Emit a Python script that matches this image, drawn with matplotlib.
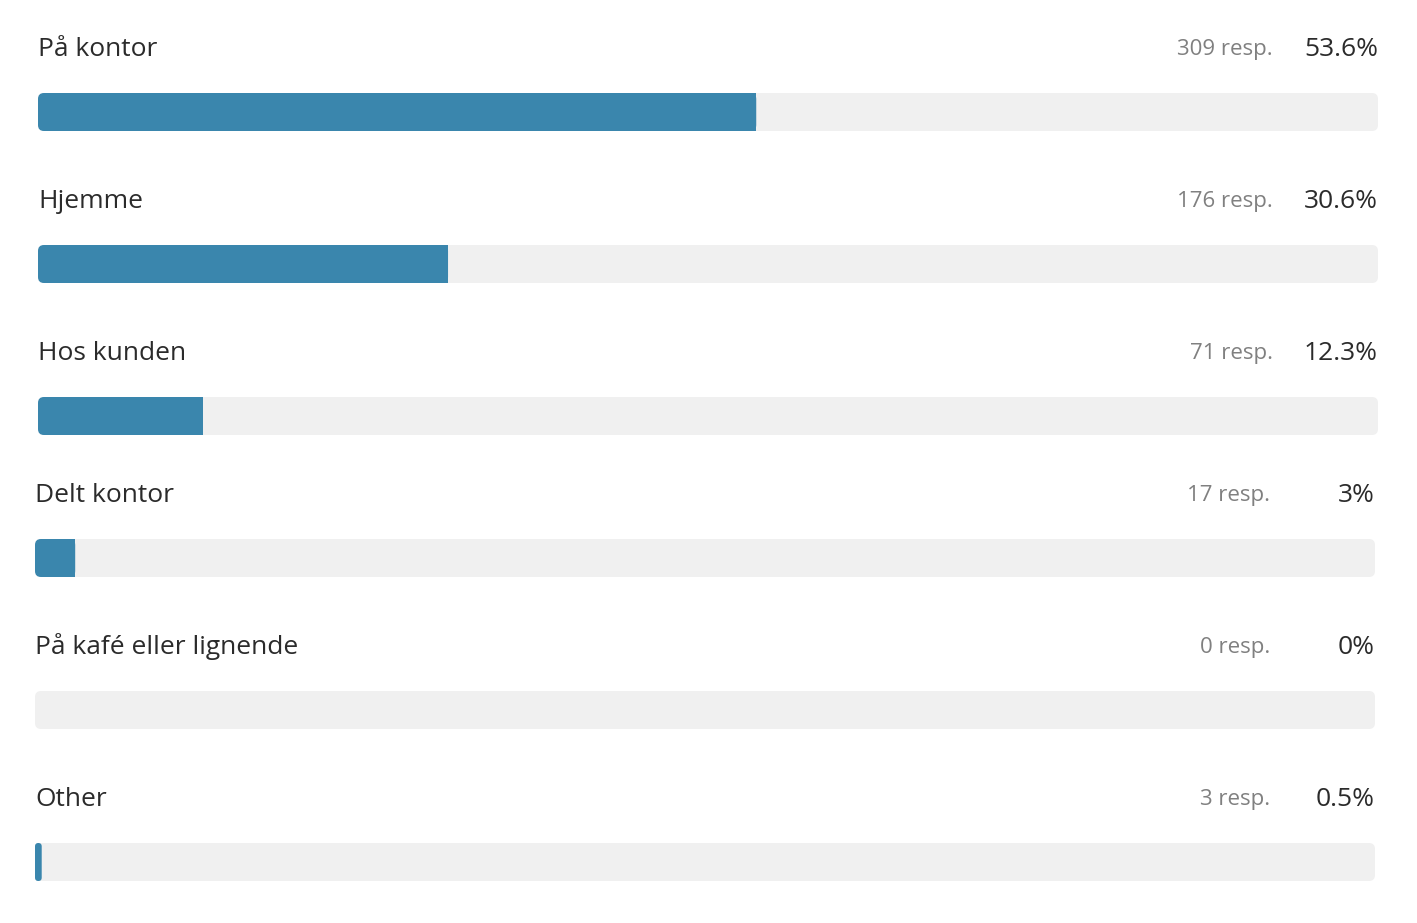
import matplotlib.pyplot as plt
from matplotlib.patches import FancyBboxPatch

labels = ['På kontor', 'Hjemme', 'Hos kunden', 'Delt kontor', 'På kafé eller lignende', 'Other']
counts = [309, 176, 71, 17, 0, 3]
pcts = [53.6, 30.6, 12.3, 3, 0, 0.5]
pct_text = ['53.6%', '30.6%', '12.3%', '3%', '0%', '0.5%']

# layout in pixels
label_y = [49, 201, 353, 495, 647, 799]
left_x = [38, 38, 38, 35, 35, 35]
track_w = 1340
bar_h = 38
gap = 44

BLUE = '#3a86ad'
TRACK = '#f0f0f0'

plt.rcParams['font.family'] = ['Open Sans', 'DejaVu Sans']
fig = plt.figure(figsize=(14.17, 9.23), dpi=100)
ax = fig.add_axes([0, 0, 1, 1])
ax.set_xlim(0, 1417)
ax.set_ylim(923, 0)
ax.axis('off')

for lab, c, p, pt, y, x0 in zip(labels, counts, pcts, pct_text, label_y, left_x):
    ax.text(x0, y, lab, fontsize=19, color='#2b2b2b', va='center', ha='left')
    ax.text(x0 + track_w - 105, y, f'{c} resp.', fontsize=16, color='#808080', va='center', ha='right')
    ax.text(x0 + track_w, y, pt, fontsize=19, color='#2b2b2b', va='center', ha='right')
    top = y + gap
    ax.add_patch(FancyBboxPatch((x0 + 6, top + 6), track_w - 12, bar_h - 12,
                                boxstyle='round,pad=6', fc=TRACK, ec='none'))
    w = track_w * p / 100
    if w > 0:
        r = min(6, w / 2)
        ax.add_patch(FancyBboxPatch((x0 + r, top + r), max(w - 2 * r, 0.01), bar_h - 2 * r,
                                    boxstyle=f'round,pad={r}', fc=BLUE, ec='none'))
        if w > 12:
            ax.add_patch(plt.Rectangle((x0 + w - 8, top), 8, bar_h, fc=BLUE, ec='none'))

fig.savefig('out.png', dpi=100)
